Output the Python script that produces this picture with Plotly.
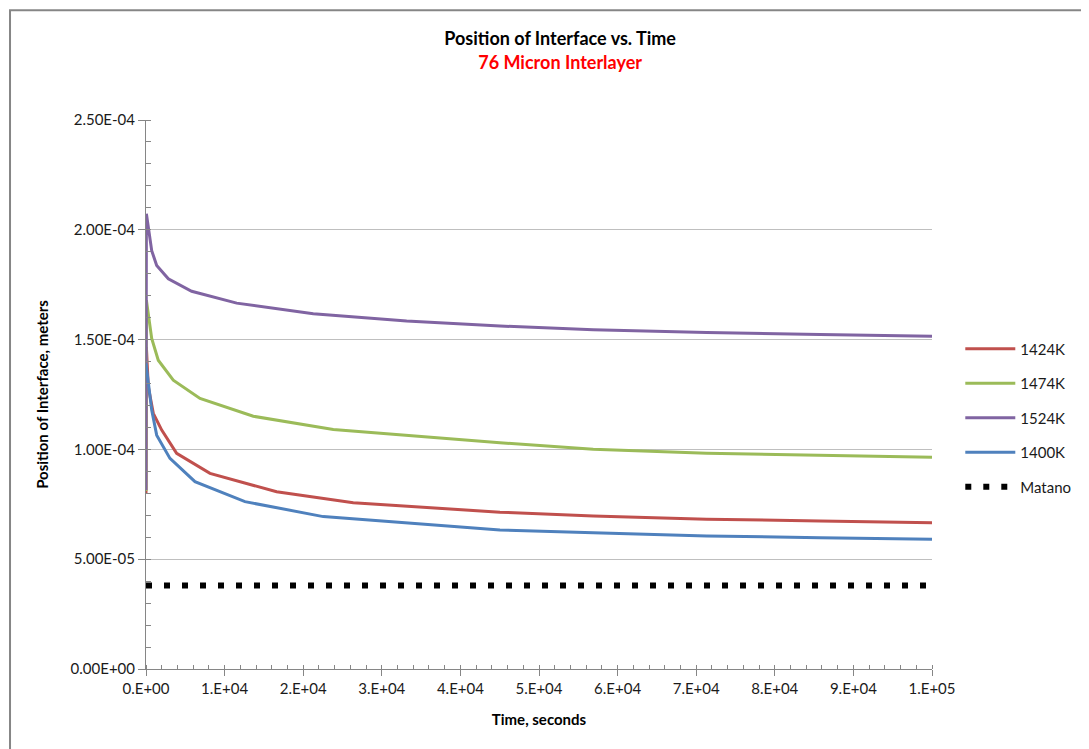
#!/usr/bin/env python3
# Position of interface vs. time, 76 micron interlayer

import plotly.graph_objects as go

# data (time in seconds, position in meters)
t_1424 = [0, 50, 290, 930, 2000, 3900, 8140, 16620, 26370, 45030, 56900, 71330, 85750, 100000]
pos_1424 = [8.0e-5, 1.466e-4, 1.285e-4, 1.164e-4, 1.088e-4, 9.82e-5, 8.91e-5, 8.07e-5, 7.57e-5,
            7.14e-5, 6.97e-5, 6.82e-5, 6.74e-5, 6.66e-5]

t_1474 = [0, 50, 725, 1560, 3470, 6870, 13650, 23830, 45030, 56900, 71330, 85750, 100000]
pos_1474 = [8.1e-5, 1.679e-4, 1.505e-4, 1.406e-4, 1.315e-4, 1.232e-4, 1.151e-4, 1.091e-4,
            1.030e-4, 1.001e-4, 9.82e-5, 9.73e-5, 9.64e-5]

t_1524 = [0, 50, 725, 1360, 2840, 5810, 11540, 21280, 33160, 45030, 56900, 71330, 85750, 100000]
pos_1524 = [8.15e-5, 2.073e-4, 1.905e-4, 1.838e-4, 1.777e-4, 1.720e-4, 1.666e-4, 1.618e-4,
            1.585e-4, 1.562e-4, 1.545e-4, 1.532e-4, 1.523e-4, 1.515e-4]

t_1400 = [0, 725, 1360, 3050, 6230, 12590, 22550, 45030, 56900, 71330, 85750, 100000]
pos_1400 = [1.391e-4, 1.179e-4, 1.065e-4, 9.59e-5, 8.53e-5, 7.62e-5, 6.94e-5, 6.33e-5,
            6.21e-5, 6.06e-5, 5.98e-5, 5.91e-5]

t_matano = [0, 100000]
pos_matano = [3.8e-5, 3.8e-5]

x_ticks = [0, 10000, 20000, 30000, 40000, 50000, 60000, 70000, 80000, 90000, 100000]
x_labels = ["0.E+00", "1.E+04", "2.E+04", "3.E+04", "4.E+04", "5.E+04",
            "6.E+04", "7.E+04", "8.E+04", "9.E+04", "1.E+05"]
y_ticks = [0, 5e-5, 1e-4, 1.5e-4, 2e-4, 2.5e-4]
y_labels = ["0.00E+00", "5.00E-05", "1.00E-04", "1.50E-04", "2.00E-04", "2.50E-04"]

FONT = "Lato, 'Open Sans', sans-serif"
AXIS_GRAY = "#868686"

series = [
    ("1424K", t_1424, pos_1424, "#C0504D"),
    ("1474K", t_1474, pos_1474, "#9BBB59"),
    ("1524K", t_1524, pos_1524, "#8064A2"),
    ("1400K", t_1400, pos_1400, "#4F81BD"),
]

fig = go.Figure()
for name, t, pos, color in series:
    fig.add_trace(go.Scatter(x=t, y=pos, name=name, mode="lines", legendgroup=name,
                             line=dict(color=color, width=3)))
fig.add_trace(go.Scatter(x=t_matano, y=pos_matano, name="Matano", mode="lines",
                         legendgroup="Matano",
                         line=dict(color="black", width=6, dash="6px,12px")))

fig.update_layout(
    width=1089, height=749,
    margin=dict(l=138, r=165, t=112, b=88),
    paper_bgcolor="white", plot_bgcolor="white",
    font=dict(family=FONT, size=15, color="#1a1a1a"),
    title=dict(
        text="<b>Position of Interface vs. Time</b><br>"
             "<b><span style='color:#FF0000'>76 Micron Interlayer</span></b>",
        x=0.507, xanchor="center", y=0.950, yanchor="top",
        font=dict(family=FONT, size=18, color="black"),
    ),
    legend=dict(x=1.036, xanchor="left", y=0.457, yanchor="middle",
                traceorder="grouped", tracegroupgap=12, itemwidth=50,
                font=dict(family=FONT, size=15, color="#1a1a1a"),
                bgcolor="rgba(0,0,0,0)"),
    # chart frame, running off the right and bottom edges as in the original
    shapes=[dict(type="rect", xref="paper", yref="paper",
                 x0=-0.173, x1=1.23, y0=-0.18, y1=1.2,
                 line=dict(color=AXIS_GRAY, width=2), layer="below")],
)

fig.update_xaxes(
    range=[0, 100000], tickmode="array", tickvals=x_ticks, ticktext=x_labels,
    showgrid=False, zeroline=False, showline=True, linecolor=AXIS_GRAY, linewidth=1,
    ticks="outside", ticklen=6, tickcolor=AXIS_GRAY,
    minor=dict(ticks="inside", ticklen=4, tickcolor=AXIS_GRAY, tickmode="linear",
               tick0=0, dtick=2000, showgrid=False),
    title=dict(text="<b>Time, seconds</b>", font=dict(size=15, color="black"), standoff=18),
)
fig.update_yaxes(
    range=[0, 2.5e-4], tickmode="array", tickvals=y_ticks, ticktext=y_labels,
    showgrid=True, gridcolor="#BFBFBF", gridwidth=1, zeroline=False,
    showline=True, linecolor=AXIS_GRAY, linewidth=1,
    ticks="outside", ticklen=7, tickcolor=AXIS_GRAY,
    minor=dict(ticks="inside", ticklen=5, tickcolor=AXIS_GRAY, tickmode="linear",
               tick0=0, dtick=1e-5, showgrid=False),
    title=dict(text="<b>Position of Interface, meters</b>", font=dict(size=15, color="black"),
               standoff=18),
)

fig.write_html("out.html")
